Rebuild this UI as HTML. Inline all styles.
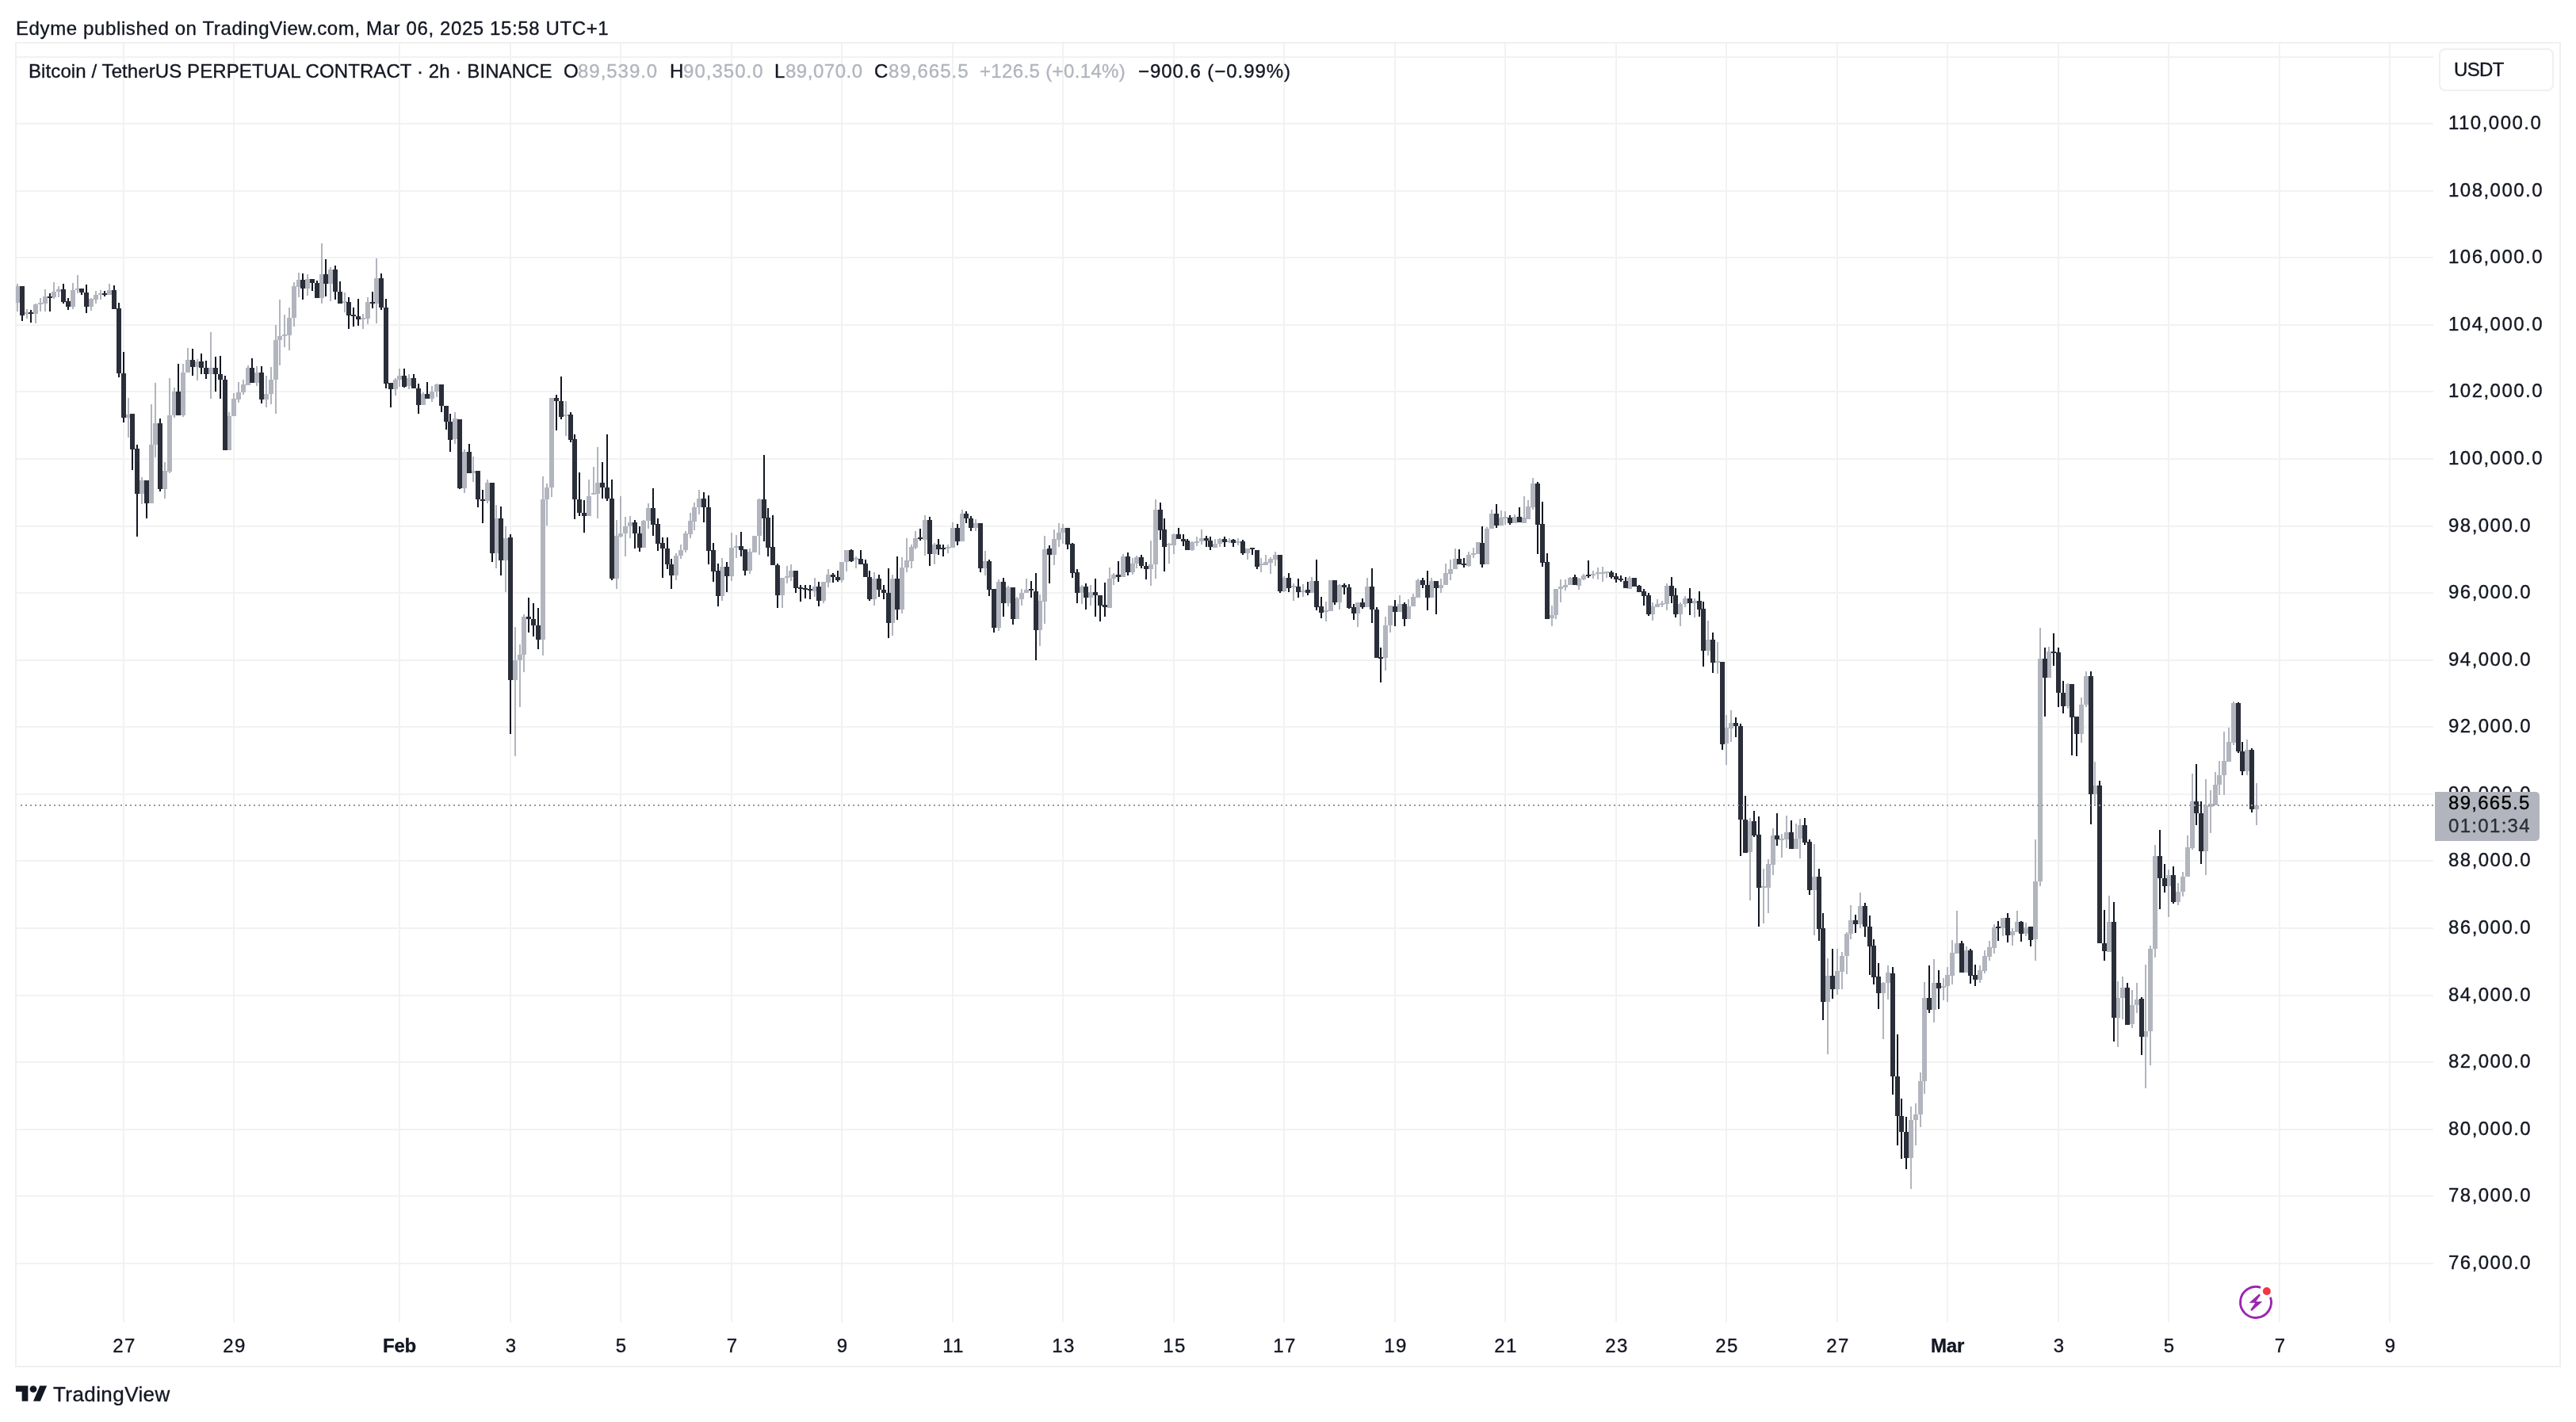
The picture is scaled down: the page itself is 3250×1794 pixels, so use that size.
<!DOCTYPE html>
<html><head><meta charset="utf-8"><title>BTCUSDT.P 2h chart</title>
<style>
html,body{margin:0;padding:0;background:#ffffff;}
body{width:3250px;height:1794px;overflow:hidden;position:relative;font-family:"Liberation Sans",Arial,sans-serif;}
.chart{position:absolute;left:0;top:0;}
.t{position:absolute;white-space:nowrap;will-change:transform;-webkit-text-stroke:0.35px currentColor;}
.frame{position:absolute;left:19px;top:53px;width:3208px;height:1668px;border:2px solid #f0f0f0;}
.usdt{position:absolute;left:3077px;top:61px;width:141px;height:50px;border:2px solid #f0f0f0;border-radius:8px;background:#fff;}
.plabel{position:absolute;left:3072px;top:999px;width:132px;height:62px;background:#b2b5be;border-radius:0 5px 5px 0;}
</style></head>
<body>
<div class="frame"></div>
<svg class="chart" width="3250" height="1794" viewBox="0 0 3250 1794" shape-rendering="crispEdges"><path fill="#f2f2f2" d="M21 71h3049v2h-3049zM21 155h3049v2h-3049zM21 240h3049v2h-3049zM21 324h3049v2h-3049zM21 409h3049v2h-3049zM21 493h3049v2h-3049zM21 578h3049v2h-3049zM21 663h3049v2h-3049zM21 747h3049v2h-3049zM21 832h3049v2h-3049zM21 916h3049v2h-3049zM21 1001h3049v2h-3049zM21 1085h3049v2h-3049zM21 1170h3049v2h-3049zM21 1255h3049v2h-3049zM21 1339h3049v2h-3049zM21 1424h3049v2h-3049zM21 1508h3049v2h-3049zM21 1593h3049v2h-3049zM155 55h2v1613h-2zM294 55h2v1613h-2zM503 55h2v1613h-2zM643 55h2v1613h-2zM782 55h2v1613h-2zM922 55h2v1613h-2zM1061 55h2v1613h-2zM1201 55h2v1613h-2zM1340 55h2v1613h-2zM1480 55h2v1613h-2zM1619 55h2v1613h-2zM1759 55h2v1613h-2zM1898 55h2v1613h-2zM2038 55h2v1613h-2zM2177 55h2v1613h-2zM2317 55h2v1613h-2zM2456 55h2v1613h-2zM2596 55h2v1613h-2zM2735 55h2v1613h-2zM2875 55h2v1613h-2zM3014 55h2v1613h-2z"/><path fill="#b2b5be" d="M21 358h2v35h-2zM33 390h2v12h-2zM44 383h2v25h-2zM50 376h2v17h-2zM56 365h2v28h-2zM67 356h2v21h-2zM73 361h2v14h-2zM91 357h2v33h-2zM97 347h2v23h-2zM114 376h2v16h-2zM120 367h2v16h-2zM126 366h2v12h-2zM137 358h2v14h-2zM161 502h2v50h-2zM178 602h2v34h-2zM190 510h2v125h-2zM195 483h2v94h-2zM207 583h2v46h-2zM213 477h2v120h-2zM219 489h2v38h-2zM230 459h2v67h-2zM236 439h2v31h-2zM248 453h2v27h-2zM265 419h2v84h-2zM288 520h2v48h-2zM294 496h2v29h-2zM300 482h2v26h-2zM306 479h2v19h-2zM312 461h2v25h-2zM323 462h2v25h-2zM335 474h2v40h-2zM341 463h2v47h-2zM347 410h2v112h-2zM352 378h2v83h-2zM358 397h2v41h-2zM364 388h2v54h-2zM370 356h2v56h-2zM376 344h2v31h-2zM387 346h2v27h-2zM405 307h2v76h-2zM416 337h2v43h-2zM434 369h2v25h-2zM457 396h2v19h-2zM463 375h2v34h-2zM474 326h2v82h-2zM498 477h2v22h-2zM503 465h2v23h-2zM515 472h2v19h-2zM533 495h2v16h-2zM544 487h2v20h-2zM550 484h2v17h-2zM573 520h2v40h-2zM585 567h2v55h-2zM596 576h2v32h-2zM614 605h2v30h-2zM625 637h2v80h-2zM637 664h2v83h-2zM649 791h2v163h-2zM655 813h2v79h-2zM660 775h2v73h-2zM684 601h2v226h-2zM689 610h2v53h-2zM695 502h2v125h-2zM713 506h2v44h-2zM742 605h2v46h-2zM748 589h2v35h-2zM753 564h2v90h-2zM777 656h2v87h-2zM782 626h2v52h-2zM788 652h2v50h-2zM794 651h2v28h-2zM811 656h2v35h-2zM817 635h2v32h-2zM852 698h2v34h-2zM858 687h2v18h-2zM864 670h2v27h-2zM870 647h2v32h-2zM875 634h2v35h-2zM881 618h2v31h-2zM910 704h2v54h-2zM922 672h2v61h-2zM928 675h2v29h-2zM945 692h2v32h-2zM951 676h2v21h-2zM957 629h2v71h-2zM986 729h2v38h-2zM992 714h2v22h-2zM997 712h2v21h-2zM1027 729h2v24h-2zM1038 734h2v27h-2zM1044 718h2v23h-2zM1061 709h2v26h-2zM1067 694h2v27h-2zM1079 702h2v15h-2zM1102 722h2v42h-2zM1125 725h2v77h-2zM1137 703h2v71h-2zM1143 679h2v43h-2zM1149 687h2v30h-2zM1154 670h2v23h-2zM1166 650h2v51h-2zM1178 685h2v27h-2zM1195 687h2v11h-2zM1201 659h2v32h-2zM1213 643h2v40h-2zM1230 655h2v15h-2zM1242 695h2v31h-2zM1259 731h2v65h-2zM1271 739h2v26h-2zM1282 753h2v28h-2zM1288 743h2v21h-2zM1294 730h2v18h-2zM1311 750h2v65h-2zM1317 676h2v111h-2zM1329 668h2v45h-2zM1335 660h2v30h-2zM1340 661h2v25h-2zM1364 738h2v24h-2zM1375 738h2v26h-2zM1399 716h2v51h-2zM1404 723h2v15h-2zM1416 699h2v29h-2zM1428 704h2v21h-2zM1433 701h2v16h-2zM1451 682h2v57h-2zM1457 630h2v100h-2zM1474 685h2v26h-2zM1480 673h2v26h-2zM1503 683h2v12h-2zM1509 677h2v12h-2zM1515 668h2v19h-2zM1532 680h2v11h-2zM1538 679h2v11h-2zM1550 679h2v6h-2zM1561 679h2v9h-2zM1573 692h2v14h-2zM1590 704h2v18h-2zM1596 700h2v13h-2zM1602 703h2v21h-2zM1608 696h2v18h-2zM1619 727h2v20h-2zM1631 736h2v22h-2zM1643 737h2v16h-2zM1654 728h2v20h-2zM1672 759h2v25h-2zM1678 732h2v39h-2zM1689 737h2v32h-2zM1712 760h2v31h-2zM1724 729h2v37h-2zM1747 778h2v68h-2zM1753 764h2v34h-2zM1765 751h2v21h-2zM1776 756h2v25h-2zM1782 749h2v16h-2zM1788 730h2v24h-2zM1805 729h2v25h-2zM1817 730h2v18h-2zM1823 711h2v27h-2zM1829 706h2v26h-2zM1835 692h2v26h-2zM1852 696h2v19h-2zM1858 691h2v13h-2zM1864 684h2v15h-2zM1875 665h2v47h-2zM1881 643h2v24h-2zM1893 644h2v19h-2zM1898 645h2v17h-2zM1910 649h2v11h-2zM1922 626h2v34h-2zM1927 631h2v24h-2zM1933 603h2v40h-2zM1957 764h2v26h-2zM1962 743h2v38h-2zM1968 731h2v29h-2zM1974 731h2v14h-2zM1980 728h2v10h-2zM1991 729h2v15h-2zM1997 724h2v8h-2zM2009 720h2v10h-2zM2015 716h2v15h-2zM2021 715h2v19h-2zM2026 721h2v8h-2zM2055 727h2v16h-2zM2084 760h2v23h-2zM2090 756h2v10h-2zM2096 758h2v8h-2zM2102 736h2v34h-2zM2119 760h2v30h-2zM2125 752h2v14h-2zM2137 755h2v24h-2zM2154 783h2v44h-2zM2166 810h2v40h-2zM2177 902h2v63h-2zM2183 896h2v40h-2zM2207 1032h2v104h-2zM2224 1096h2v69h-2zM2230 1084h2v68h-2zM2236 1045h2v59h-2zM2247 1052h2v30h-2zM2253 1029h2v41h-2zM2265 1039h2v32h-2zM2270 1033h2v50h-2zM2288 1065h2v115h-2zM2305 1209h2v121h-2zM2317 1197h2v58h-2zM2323 1201h2v47h-2zM2329 1176h2v53h-2zM2334 1142h2v43h-2zM2346 1126h2v45h-2zM2375 1239h2v72h-2zM2381 1218h2v43h-2zM2410 1396h2v104h-2zM2416 1392h2v53h-2zM2422 1353h2v69h-2zM2427 1239h2v141h-2zM2439 1210h2v80h-2zM2451 1234h2v28h-2zM2456 1220h2v44h-2zM2462 1186h2v56h-2zM2468 1149h2v54h-2zM2480 1194h2v33h-2zM2497 1218h2v22h-2zM2503 1199h2v29h-2zM2509 1187h2v25h-2zM2515 1166h2v37h-2zM2526 1158h2v23h-2zM2538 1171h2v22h-2zM2544 1149h2v27h-2zM2555 1164h2v17h-2zM2567 1059h2v153h-2zM2573 792h2v326h-2zM2584 816h2v39h-2zM2608 862h2v32h-2zM2625 880h2v57h-2zM2631 847h2v45h-2zM2642 961h2v55h-2zM2660 1130h2v71h-2zM2671 1238h2v83h-2zM2677 1232h2v54h-2zM2689 1249h2v48h-2zM2695 1240h2v38h-2zM2706 1217h2v156h-2zM2712 1193h2v151h-2zM2718 1066h2v142h-2zM2735 1097h2v60h-2zM2747 1114h2v28h-2zM2753 1100h2v31h-2zM2759 1054h2v52h-2zM2765 976h2v96h-2zM2782 983h2v121h-2zM2788 997h2v54h-2zM2794 974h2v42h-2zM2799 960h2v43h-2zM2805 923h2v80h-2zM2811 918h2v43h-2zM2817 885h2v55h-2zM2834 933h2v45h-2zM2846 988h2v53h-2z"/><path fill="#b2b5be" d="M20 361h5v21h-5zM31 394h6v2h-6zM42 384h6v12h-6zM48 382h6v2h-6zM54 374h6v9h-6zM65 368h6v7h-6zM71 365h6v3h-6zM89 366h6v21h-6zM95 364h6v2h-6zM112 377h6v10h-6zM118 372h6v6h-6zM124 370h6v2h-6zM135 366h6v6h-6zM159 523h6v4h-6zM176 606h6v17h-6zM188 561h6v74h-6zM193 534h6v27h-6zM205 594h6v23h-6zM211 524h6v71h-6zM217 494h6v30h-6zM228 470h6v54h-6zM234 454h6v16h-6zM246 456h6v7h-6zM263 464h6v8h-6zM286 525h6v43h-6zM292 503h6v22h-6zM298 495h6v9h-6zM304 485h6v10h-6zM310 464h6v22h-6zM321 470h6v13h-6zM333 497h6v7h-6zM339 479h6v18h-6zM345 429h6v50h-6zM350 424h6v5h-6zM356 422h6v2h-6zM362 401h6v22h-6zM368 361h6v40h-6zM374 353h6v9h-6zM385 352h6v12h-6zM403 346h6v30h-6zM414 340h6v18h-6zM432 380h6v2h-6zM455 401h6v2h-6zM461 381h6v21h-6zM472 351h6v32h-6zM496 479h6v12h-6zM501 474h6v5h-6zM513 477h6v10h-6zM531 497h6v14h-6zM542 494h6v9h-6zM548 485h6v9h-6zM571 528h6v26h-6zM583 570h6v46h-6zM594 594h6v3h-6zM612 609h6v23h-6zM623 654h6v44h-6zM635 679h6v28h-6zM647 833h6v25h-6zM653 826h6v7h-6zM658 778h6v48h-6zM682 630h6v177h-6zM687 615h6v15h-6zM693 502h6v113h-6zM711 523h6v2h-6zM740 626h6v25h-6zM746 622h6v2h-6zM751 609h6v14h-6zM775 676h6v54h-6zM780 673h6v4h-6zM786 664h6v9h-6zM792 659h6v5h-6zM809 657h6v34h-6zM815 641h6v16h-6zM850 701h6v25h-6zM856 694h6v7h-6zM862 673h6v21h-6zM868 657h6v17h-6zM873 640h6v18h-6zM879 629h6v11h-6zM908 715h6v37h-6zM920 691h6v36h-6zM926 689h6v2h-6zM943 696h6v24h-6zM949 676h6v21h-6zM955 630h6v46h-6zM984 729h6v22h-6zM990 727h6v2h-6zM995 720h6v8h-6zM1025 740h6v6h-6zM1036 734h6v24h-6zM1042 725h6v10h-6zM1059 709h6v23h-6zM1065 694h6v15h-6zM1077 704h6v2h-6zM1100 730h6v26h-6zM1123 730h6v56h-6zM1135 716h6v53h-6zM1141 707h6v9h-6zM1147 690h6v18h-6zM1152 679h6v12h-6zM1164 656h6v25h-6zM1176 687h6v12h-6zM1193 690h6v2h-6zM1199 666h6v25h-6zM1211 648h6v35h-6zM1228 660h6v6h-6zM1240 708h6v9h-6zM1257 734h6v58h-6zM1269 741h6v20h-6zM1280 755h6v26h-6zM1286 748h6v8h-6zM1292 744h6v4h-6zM1309 758h6v37h-6zM1315 693h6v66h-6zM1327 680h6v20h-6zM1333 672h6v9h-6zM1338 666h6v6h-6zM1362 740h6v8h-6zM1373 747h6v7h-6zM1397 730h6v37h-6zM1402 725h6v5h-6zM1414 702h6v26h-6zM1426 711h6v11h-6zM1431 703h6v8h-6zM1449 712h6v6h-6zM1455 643h6v69h-6zM1472 686h6v2h-6zM1478 674h6v14h-6zM1501 684h6v10h-6zM1507 683h6v2h-6zM1513 679h6v4h-6zM1530 686h6v5h-6zM1536 680h6v6h-6zM1548 682h6v2h-6zM1559 683h6v2h-6zM1571 692h6v6h-6zM1588 711h6v2h-6zM1594 709h6v4h-6zM1600 705h6v5h-6zM1606 700h6v6h-6zM1617 729h6v17h-6zM1629 739h6v2h-6zM1641 745h6v2h-6zM1652 733h6v15h-6zM1670 770h6v2h-6zM1676 732h6v39h-6zM1687 738h6v22h-6zM1710 760h6v14h-6zM1722 740h6v26h-6zM1745 789h6v41h-6zM1751 764h6v25h-6zM1763 762h6v10h-6zM1774 765h6v16h-6zM1780 753h6v12h-6zM1786 732h6v22h-6zM1803 733h6v21h-6zM1815 738h6v4h-6zM1821 723h6v15h-6zM1827 718h6v6h-6zM1833 705h6v13h-6zM1850 700h6v14h-6zM1856 698h6v2h-6zM1862 684h6v15h-6zM1873 667h6v45h-6zM1879 648h6v19h-6zM1891 653h6v10h-6zM1896 652h6v2h-6zM1908 652h6v8h-6zM1920 653h6v7h-6zM1925 639h6v16h-6zM1931 610h6v30h-6zM1955 776h6v4h-6zM1960 743h6v33h-6zM1966 740h6v3h-6zM1972 738h6v3h-6zM1978 729h6v9h-6zM1989 730h6v9h-6zM1995 726h6v5h-6zM2007 724h6v2h-6zM2013 722h6v2h-6zM2019 722h6v2h-6zM2024 721h6v2h-6zM2053 729h6v14h-6zM2082 765h6v10h-6zM2088 762h6v4h-6zM2094 761h6v2h-6zM2100 739h6v23h-6zM2117 762h6v13h-6zM2123 755h6v7h-6zM2135 758h6v3h-6zM2152 807h6v14h-6zM2164 834h6v2h-6zM2175 918h6v20h-6zM2181 912h6v7h-6zM2205 1036h6v39h-6zM2222 1118h6v2h-6zM2228 1090h6v30h-6zM2234 1054h6v37h-6zM2245 1058h6v2h-6zM2251 1050h6v9h-6zM2263 1058h6v13h-6zM2268 1041h6v17h-6zM2286 1106h6v17h-6zM2303 1231h6v33h-6zM2315 1225h6v23h-6zM2321 1206h6v20h-6zM2327 1178h6v28h-6zM2332 1161h6v17h-6zM2344 1143h6v23h-6zM2373 1240h6v13h-6zM2379 1227h6v13h-6zM2408 1413h6v48h-6zM2414 1406h6v7h-6zM2420 1364h6v42h-6zM2425 1259h6v105h-6zM2437 1240h6v34h-6zM2449 1244h6v2h-6zM2454 1230h6v14h-6zM2460 1202h6v29h-6zM2466 1190h6v13h-6zM2478 1199h6v28h-6zM2495 1224h6v12h-6zM2501 1206h6v19h-6zM2507 1195h6v12h-6zM2513 1170h6v26h-6zM2524 1158h6v13h-6zM2536 1175h6v5h-6zM2542 1163h6v13h-6zM2553 1170h6v8h-6zM2565 1112h6v73h-6zM2571 831h6v281h-6zM2582 822h6v33h-6zM2606 863h6v28h-6zM2623 889h6v37h-6zM2629 853h6v36h-6zM2640 991h6v11h-6zM2658 1163h6v38h-6zM2669 1259h6v25h-6zM2675 1246h6v13h-6zM2687 1268h6v24h-6zM2693 1261h6v7h-6zM2704 1301h6v7h-6zM2710 1197h6v104h-6zM2716 1080h6v117h-6zM2733 1104h6v14h-6zM2745 1125h6v13h-6zM2751 1106h6v19h-6zM2757 1069h6v37h-6zM2763 1011h6v59h-6zM2780 1016h6v58h-6zM2786 1014h6v4h-6zM2792 990h6v26h-6zM2797 978h6v12h-6zM2803 960h6v18h-6zM2809 936h6v25h-6zM2815 887h6v50h-6zM2832 946h6v27h-6zM2844 1016h6v5h-6z"/><path fill="#131722" d="M27 361h2v44h-2zM38 391h2v16h-2zM62 370h2v23h-2zM79 358h2v25h-2zM85 376h2v15h-2zM102 364h2v8h-2zM108 359h2v36h-2zM131 367h2v7h-2zM143 360h2v30h-2zM149 382h2v94h-2zM155 444h2v89h-2zM166 522h2v71h-2zM172 561h2v116h-2zM184 606h2v48h-2zM201 528h2v92h-2zM224 459h2v65h-2zM242 440h2v34h-2zM253 446h2v26h-2zM259 455h2v23h-2zM271 450h2v44h-2zM277 449h2v54h-2zM283 474h2v94h-2zM317 452h2v31h-2zM329 462h2v47h-2zM381 345h2v33h-2zM393 352h2v15h-2zM399 354h2v22h-2zM410 327h2v47h-2zM422 335h2v43h-2zM428 355h2v28h-2zM439 375h2v40h-2zM445 388h2v24h-2zM451 377h2v34h-2zM469 368h2v21h-2zM480 345h2v46h-2zM486 377h2v113h-2zM492 483h2v31h-2zM509 465h2v24h-2zM521 472h2v18h-2zM527 484h2v38h-2zM538 482h2v21h-2zM556 485h2v35h-2zM562 512h2v30h-2zM567 522h2v48h-2zM579 529h2v88h-2zM591 560h2v37h-2zM602 594h2v46h-2zM608 618h2v42h-2zM620 609h2v100h-2zM631 639h2v87h-2zM643 674h2v252h-2zM666 754h2v44h-2zM672 761h2v42h-2zM678 767h2v52h-2zM701 498h2v45h-2zM707 475h2v54h-2zM719 520h2v38h-2zM724 548h2v107h-2zM730 596h2v55h-2zM736 631h2v41h-2zM759 583h2v46h-2zM765 548h2v84h-2zM771 605h2v127h-2zM800 656h2v36h-2zM806 664h2v32h-2zM823 616h2v60h-2zM829 654h2v41h-2zM835 678h2v51h-2zM841 678h2v40h-2zM846 705h2v38h-2zM887 621h2v38h-2zM893 625h2v87h-2zM899 685h2v49h-2zM905 711h2v54h-2zM916 709h2v38h-2zM934 671h2v31h-2zM939 693h2v33h-2zM963 574h2v109h-2zM968 641h2v61h-2zM974 650h2v63h-2zM980 711h2v56h-2zM1003 720h2v28h-2zM1009 738h2v21h-2zM1015 738h2v17h-2zM1021 738h2v18h-2zM1032 734h2v31h-2zM1050 723h2v12h-2zM1056 720h2v14h-2zM1073 693h2v16h-2zM1085 694h2v18h-2zM1091 706h2v22h-2zM1096 720h2v38h-2zM1108 725h2v28h-2zM1114 738h2v18h-2zM1120 717h2v88h-2zM1131 702h2v80h-2zM1160 667h2v15h-2zM1172 652h2v62h-2zM1183 680h2v20h-2zM1189 687h2v15h-2zM1207 661h2v27h-2zM1218 645h2v15h-2zM1224 651h2v19h-2zM1236 660h2v62h-2zM1247 706h2v46h-2zM1253 743h2v55h-2zM1265 729h2v49h-2zM1277 741h2v47h-2zM1300 733h2v21h-2zM1306 723h2v110h-2zM1323 688h2v48h-2zM1346 666h2v27h-2zM1352 685h2v44h-2zM1358 718h2v43h-2zM1369 736h2v33h-2zM1381 730h2v48h-2zM1387 751h2v33h-2zM1393 735h2v43h-2zM1410 708h2v26h-2zM1422 697h2v29h-2zM1439 700h2v17h-2zM1445 709h2v22h-2zM1463 634h2v47h-2zM1468 654h2v67h-2zM1486 666h2v14h-2zM1492 674h2v15h-2zM1497 680h2v14h-2zM1521 676h2v14h-2zM1526 677h2v17h-2zM1544 677h2v13h-2zM1555 680h2v10h-2zM1567 681h2v19h-2zM1579 691h2v9h-2zM1585 694h2v24h-2zM1614 700h2v48h-2zM1625 723h2v24h-2zM1637 730h2v24h-2zM1649 734h2v17h-2zM1660 706h2v64h-2zM1666 753h2v27h-2zM1683 732h2v31h-2zM1695 736h2v14h-2zM1701 737h2v31h-2zM1707 762h2v20h-2zM1718 755h2v13h-2zM1730 717h2v69h-2zM1736 766h2v64h-2zM1741 817h2v44h-2zM1759 757h2v33h-2zM1771 760h2v30h-2zM1794 729h2v13h-2zM1800 720h2v50h-2zM1811 733h2v42h-2zM1840 693h2v19h-2zM1846 704h2v12h-2zM1869 664h2v52h-2zM1887 636h2v30h-2zM1904 650h2v12h-2zM1916 640h2v19h-2zM1939 608h2v91h-2zM1945 633h2v82h-2zM1951 698h2v83h-2zM1986 725h2v13h-2zM2003 707h2v22h-2zM2032 720h2v10h-2zM2038 723h2v12h-2zM2044 726h2v8h-2zM2050 728h2v14h-2zM2061 729h2v11h-2zM2067 738h2v9h-2zM2073 743h2v21h-2zM2079 748h2v29h-2zM2108 728h2v33h-2zM2113 742h2v37h-2zM2131 742h2v34h-2zM2143 746h2v32h-2zM2148 759h2v82h-2zM2160 798h2v51h-2zM2172 835h2v111h-2zM2189 905h2v25h-2zM2195 913h2v167h-2zM2201 1004h2v72h-2zM2212 1023h2v33h-2zM2218 1030h2v139h-2zM2241 1026h2v41h-2zM2259 1035h2v36h-2zM2276 1032h2v34h-2zM2282 1059h2v70h-2zM2294 1096h2v91h-2zM2299 1152h2v135h-2zM2311 1197h2v63h-2zM2340 1154h2v23h-2zM2352 1139h2v43h-2zM2358 1155h2v75h-2zM2363 1185h2v57h-2zM2369 1215h2v58h-2zM2387 1220h2v161h-2zM2393 1305h2v140h-2zM2398 1386h2v76h-2zM2404 1409h2v66h-2zM2433 1218h2v60h-2zM2445 1224h2v49h-2zM2474 1187h2v40h-2zM2485 1197h2v44h-2zM2491 1217h2v27h-2zM2520 1162h2v25h-2zM2532 1152h2v37h-2zM2549 1162h2v26h-2zM2561 1169h2v25h-2zM2579 817h2v87h-2zM2590 799h2v41h-2zM2596 817h2v75h-2zM2602 859h2v41h-2zM2613 863h2v90h-2zM2619 904h2v50h-2zM2637 847h2v193h-2zM2648 985h2v205h-2zM2654 1148h2v64h-2zM2666 1138h2v176h-2zM2683 1240h2v53h-2zM2701 1258h2v73h-2zM2724 1047h2v100h-2zM2730 1090h2v36h-2zM2741 1093h2v47h-2zM2770 964h2v77h-2zM2776 1011h2v79h-2zM2823 886h2v64h-2zM2828 936h2v42h-2zM2840 944h2v81h-2z"/><path fill="#2a2e39" d="M25 361h6v37h-6zM36 394h6v2h-6zM60 374h6v2h-6zM77 365h6v16h-6zM83 380h6v7h-6zM100 364h6v5h-6zM106 369h6v18h-6zM129 370h6v2h-6zM141 366h6v24h-6zM147 389h6v82h-6zM153 471h6v56h-6zM164 522h6v45h-6zM170 566h6v57h-6zM182 606h6v29h-6zM199 534h6v83h-6zM222 494h6v30h-6zM240 454h6v9h-6zM251 456h6v8h-6zM257 464h6v8h-6zM269 464h6v8h-6zM275 472h6v7h-6zM281 479h6v89h-6zM315 464h6v19h-6zM327 470h6v34h-6zM379 353h6v11h-6zM391 352h6v5h-6zM397 357h6v19h-6zM408 346h6v12h-6zM420 340h6v28h-6zM426 368h6v15h-6zM437 381h6v17h-6zM443 397h6v2h-6zM449 399h6v4h-6zM467 381h6v2h-6zM478 351h6v37h-6zM484 388h6v96h-6zM490 483h6v8h-6zM507 474h6v14h-6zM519 477h6v13h-6zM525 490h6v21h-6zM536 497h6v6h-6zM554 485h6v27h-6zM560 512h6v20h-6zM565 532h6v23h-6zM577 529h6v87h-6zM589 570h6v27h-6zM600 594h6v36h-6zM606 630h6v2h-6zM618 609h6v89h-6zM629 654h6v53h-6zM641 678h6v180h-6zM664 778h6v3h-6zM670 781h6v8h-6zM676 789h6v18h-6zM699 502h6v4h-6zM705 506h6v20h-6zM717 523h6v32h-6zM722 554h6v76h-6zM728 630h6v17h-6zM734 647h6v4h-6zM757 609h6v6h-6zM763 615h6v14h-6zM769 629h6v101h-6zM798 659h6v14h-6zM804 673h6v18h-6zM821 641h6v21h-6zM827 661h6v25h-6zM833 685h6v7h-6zM839 692h6v20h-6zM844 712h6v14h-6zM885 629h6v11h-6zM891 640h6v55h-6zM897 694h6v27h-6zM903 720h6v32h-6zM914 715h6v12h-6zM932 689h6v5h-6zM937 693h6v27h-6zM961 630h6v24h-6zM966 653h6v38h-6zM972 690h6v23h-6zM978 713h6v38h-6zM1001 720h6v22h-6zM1007 741h6v2h-6zM1013 742h6v2h-6zM1019 743h6v2h-6zM1030 740h6v18h-6zM1048 725h6v3h-6zM1054 728h6v4h-6zM1071 694h6v14h-6zM1083 705h6v7h-6zM1089 711h6v17h-6zM1094 728h6v28h-6zM1106 730h6v14h-6zM1112 744h6v4h-6zM1118 748h6v38h-6zM1129 730h6v39h-6zM1158 678h6v2h-6zM1170 656h6v43h-6zM1181 687h6v6h-6zM1187 691h6v2h-6zM1205 666h6v17h-6zM1216 648h6v6h-6zM1222 654h6v12h-6zM1234 660h6v57h-6zM1245 708h6v36h-6zM1251 743h6v49h-6zM1263 734h6v27h-6zM1275 741h6v40h-6zM1298 743h6v2h-6zM1304 746h6v49h-6zM1321 692h6v8h-6zM1344 666h6v21h-6zM1350 686h6v37h-6zM1356 722h6v26h-6zM1367 740h6v14h-6zM1379 747h6v4h-6zM1385 751h6v13h-6zM1391 763h6v3h-6zM1408 725h6v3h-6zM1420 702h6v20h-6zM1437 703h6v11h-6zM1443 714h6v4h-6zM1461 643h6v26h-6zM1466 668h6v22h-6zM1484 674h6v6h-6zM1490 680h6v3h-6zM1495 682h6v12h-6zM1519 679h6v3h-6zM1524 682h6v8h-6zM1542 680h6v4h-6zM1553 681h6v4h-6zM1565 683h6v15h-6zM1577 691h6v2h-6zM1583 694h6v21h-6zM1612 700h6v46h-6zM1623 729h6v13h-6zM1635 740h6v7h-6zM1647 744h6v4h-6zM1658 733h6v33h-6zM1664 765h6v8h-6zM1681 732h6v28h-6zM1693 738h6v3h-6zM1699 741h6v26h-6zM1705 766h6v8h-6zM1716 760h6v6h-6zM1728 740h6v29h-6zM1734 769h6v61h-6zM1739 829h6v2h-6zM1757 765h6v7h-6zM1769 762h6v19h-6zM1792 732h6v6h-6zM1798 738h6v16h-6zM1809 733h6v9h-6zM1838 705h6v7h-6zM1844 711h6v2h-6zM1867 685h6v27h-6zM1885 648h6v15h-6zM1902 653h6v7h-6zM1914 652h6v7h-6zM1937 610h6v52h-6zM1943 661h6v49h-6zM1949 709h6v72h-6zM1984 728h6v10h-6zM2001 725h6v2h-6zM2030 722h6v6h-6zM2036 727h6v4h-6zM2042 730h6v2h-6zM2048 733h6v9h-6zM2059 729h6v11h-6zM2065 739h6v8h-6zM2071 746h6v6h-6zM2077 751h6v24h-6zM2106 739h6v13h-6zM2111 751h6v24h-6zM2129 755h6v6h-6zM2141 758h6v11h-6zM2146 768h6v53h-6zM2158 807h6v29h-6zM2170 835h6v104h-6zM2187 912h6v4h-6zM2193 916h6v118h-6zM2199 1034h6v42h-6zM2210 1036h6v18h-6zM2216 1053h6v67h-6zM2239 1054h6v5h-6zM2257 1050h6v21h-6zM2274 1041h6v22h-6zM2280 1062h6v61h-6zM2292 1106h6v66h-6zM2297 1171h6v93h-6zM2309 1231h6v17h-6zM2338 1161h6v5h-6zM2350 1143h6v26h-6zM2356 1169h6v25h-6zM2361 1193h6v40h-6zM2367 1232h6v21h-6zM2385 1228h6v130h-6zM2391 1358h6v50h-6zM2396 1408h6v20h-6zM2402 1428h6v33h-6zM2431 1259h6v15h-6zM2443 1240h6v7h-6zM2472 1190h6v37h-6zM2483 1199h6v32h-6zM2489 1230h6v6h-6zM2518 1169h6v2h-6zM2530 1158h6v22h-6zM2547 1163h6v15h-6zM2559 1169h6v17h-6zM2577 831h6v24h-6zM2588 822h6v2h-6zM2594 823h6v51h-6zM2600 874h6v17h-6zM2611 863h6v42h-6zM2617 904h6v22h-6zM2635 853h6v149h-6zM2646 991h6v199h-6zM2652 1190h6v10h-6zM2664 1163h6v121h-6zM2681 1246h6v47h-6zM2699 1260h6v48h-6zM2722 1080h6v28h-6zM2728 1108h6v10h-6zM2739 1104h6v34h-6zM2768 1011h6v15h-6zM2774 1026h6v48h-6zM2821 887h6v61h-6zM2826 948h6v25h-6zM2838 946h6v75h-6z"/><path fill="#9598a1" d="M26 1015h2v2h-2zM32 1015h2v2h-2zM38 1015h2v2h-2zM44 1015h2v2h-2zM50 1015h2v2h-2zM56 1015h2v2h-2zM62 1015h2v2h-2zM68 1015h2v2h-2zM74 1015h2v2h-2zM80 1015h2v2h-2zM86 1015h2v2h-2zM92 1015h2v2h-2zM98 1015h2v2h-2zM104 1015h2v2h-2zM110 1015h2v2h-2zM116 1015h2v2h-2zM122 1015h2v2h-2zM128 1015h2v2h-2zM134 1015h2v2h-2zM140 1015h2v2h-2zM146 1015h2v2h-2zM152 1015h2v2h-2zM158 1015h2v2h-2zM164 1015h2v2h-2zM170 1015h2v2h-2zM176 1015h2v2h-2zM182 1015h2v2h-2zM188 1015h2v2h-2zM194 1015h2v2h-2zM200 1015h2v2h-2zM206 1015h2v2h-2zM212 1015h2v2h-2zM218 1015h2v2h-2zM224 1015h2v2h-2zM230 1015h2v2h-2zM236 1015h2v2h-2zM242 1015h2v2h-2zM248 1015h2v2h-2zM254 1015h2v2h-2zM260 1015h2v2h-2zM266 1015h2v2h-2zM272 1015h2v2h-2zM278 1015h2v2h-2zM284 1015h2v2h-2zM290 1015h2v2h-2zM296 1015h2v2h-2zM302 1015h2v2h-2zM308 1015h2v2h-2zM314 1015h2v2h-2zM320 1015h2v2h-2zM326 1015h2v2h-2zM332 1015h2v2h-2zM338 1015h2v2h-2zM344 1015h2v2h-2zM350 1015h2v2h-2zM356 1015h2v2h-2zM362 1015h2v2h-2zM368 1015h2v2h-2zM374 1015h2v2h-2zM380 1015h2v2h-2zM386 1015h2v2h-2zM392 1015h2v2h-2zM398 1015h2v2h-2zM404 1015h2v2h-2zM410 1015h2v2h-2zM416 1015h2v2h-2zM422 1015h2v2h-2zM428 1015h2v2h-2zM434 1015h2v2h-2zM440 1015h2v2h-2zM446 1015h2v2h-2zM452 1015h2v2h-2zM458 1015h2v2h-2zM464 1015h2v2h-2zM470 1015h2v2h-2zM476 1015h2v2h-2zM482 1015h2v2h-2zM488 1015h2v2h-2zM494 1015h2v2h-2zM500 1015h2v2h-2zM506 1015h2v2h-2zM512 1015h2v2h-2zM518 1015h2v2h-2zM524 1015h2v2h-2zM530 1015h2v2h-2zM536 1015h2v2h-2zM542 1015h2v2h-2zM548 1015h2v2h-2zM554 1015h2v2h-2zM560 1015h2v2h-2zM566 1015h2v2h-2zM572 1015h2v2h-2zM578 1015h2v2h-2zM584 1015h2v2h-2zM590 1015h2v2h-2zM596 1015h2v2h-2zM602 1015h2v2h-2zM608 1015h2v2h-2zM614 1015h2v2h-2zM620 1015h2v2h-2zM626 1015h2v2h-2zM632 1015h2v2h-2zM638 1015h2v2h-2zM644 1015h2v2h-2zM650 1015h2v2h-2zM656 1015h2v2h-2zM662 1015h2v2h-2zM668 1015h2v2h-2zM674 1015h2v2h-2zM680 1015h2v2h-2zM686 1015h2v2h-2zM692 1015h2v2h-2zM698 1015h2v2h-2zM704 1015h2v2h-2zM710 1015h2v2h-2zM716 1015h2v2h-2zM722 1015h2v2h-2zM728 1015h2v2h-2zM734 1015h2v2h-2zM740 1015h2v2h-2zM746 1015h2v2h-2zM752 1015h2v2h-2zM758 1015h2v2h-2zM764 1015h2v2h-2zM770 1015h2v2h-2zM776 1015h2v2h-2zM782 1015h2v2h-2zM788 1015h2v2h-2zM794 1015h2v2h-2zM800 1015h2v2h-2zM806 1015h2v2h-2zM812 1015h2v2h-2zM818 1015h2v2h-2zM824 1015h2v2h-2zM830 1015h2v2h-2zM836 1015h2v2h-2zM842 1015h2v2h-2zM848 1015h2v2h-2zM854 1015h2v2h-2zM860 1015h2v2h-2zM866 1015h2v2h-2zM872 1015h2v2h-2zM878 1015h2v2h-2zM884 1015h2v2h-2zM890 1015h2v2h-2zM896 1015h2v2h-2zM902 1015h2v2h-2zM908 1015h2v2h-2zM914 1015h2v2h-2zM920 1015h2v2h-2zM926 1015h2v2h-2zM932 1015h2v2h-2zM938 1015h2v2h-2zM944 1015h2v2h-2zM950 1015h2v2h-2zM956 1015h2v2h-2zM962 1015h2v2h-2zM968 1015h2v2h-2zM974 1015h2v2h-2zM980 1015h2v2h-2zM986 1015h2v2h-2zM992 1015h2v2h-2zM998 1015h2v2h-2zM1004 1015h2v2h-2zM1010 1015h2v2h-2zM1016 1015h2v2h-2zM1022 1015h2v2h-2zM1028 1015h2v2h-2zM1034 1015h2v2h-2zM1040 1015h2v2h-2zM1046 1015h2v2h-2zM1052 1015h2v2h-2zM1058 1015h2v2h-2zM1064 1015h2v2h-2zM1070 1015h2v2h-2zM1076 1015h2v2h-2zM1082 1015h2v2h-2zM1088 1015h2v2h-2zM1094 1015h2v2h-2zM1100 1015h2v2h-2zM1106 1015h2v2h-2zM1112 1015h2v2h-2zM1118 1015h2v2h-2zM1124 1015h2v2h-2zM1130 1015h2v2h-2zM1136 1015h2v2h-2zM1142 1015h2v2h-2zM1148 1015h2v2h-2zM1154 1015h2v2h-2zM1160 1015h2v2h-2zM1166 1015h2v2h-2zM1172 1015h2v2h-2zM1178 1015h2v2h-2zM1184 1015h2v2h-2zM1190 1015h2v2h-2zM1196 1015h2v2h-2zM1202 1015h2v2h-2zM1208 1015h2v2h-2zM1214 1015h2v2h-2zM1220 1015h2v2h-2zM1226 1015h2v2h-2zM1232 1015h2v2h-2zM1238 1015h2v2h-2zM1244 1015h2v2h-2zM1250 1015h2v2h-2zM1256 1015h2v2h-2zM1262 1015h2v2h-2zM1268 1015h2v2h-2zM1274 1015h2v2h-2zM1280 1015h2v2h-2zM1286 1015h2v2h-2zM1292 1015h2v2h-2zM1298 1015h2v2h-2zM1304 1015h2v2h-2zM1310 1015h2v2h-2zM1316 1015h2v2h-2zM1322 1015h2v2h-2zM1328 1015h2v2h-2zM1334 1015h2v2h-2zM1340 1015h2v2h-2zM1346 1015h2v2h-2zM1352 1015h2v2h-2zM1358 1015h2v2h-2zM1364 1015h2v2h-2zM1370 1015h2v2h-2zM1376 1015h2v2h-2zM1382 1015h2v2h-2zM1388 1015h2v2h-2zM1394 1015h2v2h-2zM1400 1015h2v2h-2zM1406 1015h2v2h-2zM1412 1015h2v2h-2zM1418 1015h2v2h-2zM1424 1015h2v2h-2zM1430 1015h2v2h-2zM1436 1015h2v2h-2zM1442 1015h2v2h-2zM1448 1015h2v2h-2zM1454 1015h2v2h-2zM1460 1015h2v2h-2zM1466 1015h2v2h-2zM1472 1015h2v2h-2zM1478 1015h2v2h-2zM1484 1015h2v2h-2zM1490 1015h2v2h-2zM1496 1015h2v2h-2zM1502 1015h2v2h-2zM1508 1015h2v2h-2zM1514 1015h2v2h-2zM1520 1015h2v2h-2zM1526 1015h2v2h-2zM1532 1015h2v2h-2zM1538 1015h2v2h-2zM1544 1015h2v2h-2zM1550 1015h2v2h-2zM1556 1015h2v2h-2zM1562 1015h2v2h-2zM1568 1015h2v2h-2zM1574 1015h2v2h-2zM1580 1015h2v2h-2zM1586 1015h2v2h-2zM1592 1015h2v2h-2zM1598 1015h2v2h-2zM1604 1015h2v2h-2zM1610 1015h2v2h-2zM1616 1015h2v2h-2zM1622 1015h2v2h-2zM1628 1015h2v2h-2zM1634 1015h2v2h-2zM1640 1015h2v2h-2zM1646 1015h2v2h-2zM1652 1015h2v2h-2zM1658 1015h2v2h-2zM1664 1015h2v2h-2zM1670 1015h2v2h-2zM1676 1015h2v2h-2zM1682 1015h2v2h-2zM1688 1015h2v2h-2zM1694 1015h2v2h-2zM1700 1015h2v2h-2zM1706 1015h2v2h-2zM1712 1015h2v2h-2zM1718 1015h2v2h-2zM1724 1015h2v2h-2zM1730 1015h2v2h-2zM1736 1015h2v2h-2zM1742 1015h2v2h-2zM1748 1015h2v2h-2zM1754 1015h2v2h-2zM1760 1015h2v2h-2zM1766 1015h2v2h-2zM1772 1015h2v2h-2zM1778 1015h2v2h-2zM1784 1015h2v2h-2zM1790 1015h2v2h-2zM1796 1015h2v2h-2zM1802 1015h2v2h-2zM1808 1015h2v2h-2zM1814 1015h2v2h-2zM1820 1015h2v2h-2zM1826 1015h2v2h-2zM1832 1015h2v2h-2zM1838 1015h2v2h-2zM1844 1015h2v2h-2zM1850 1015h2v2h-2zM1856 1015h2v2h-2zM1862 1015h2v2h-2zM1868 1015h2v2h-2zM1874 1015h2v2h-2zM1880 1015h2v2h-2zM1886 1015h2v2h-2zM1892 1015h2v2h-2zM1898 1015h2v2h-2zM1904 1015h2v2h-2zM1910 1015h2v2h-2zM1916 1015h2v2h-2zM1922 1015h2v2h-2zM1928 1015h2v2h-2zM1934 1015h2v2h-2zM1940 1015h2v2h-2zM1946 1015h2v2h-2zM1952 1015h2v2h-2zM1958 1015h2v2h-2zM1964 1015h2v2h-2zM1970 1015h2v2h-2zM1976 1015h2v2h-2zM1982 1015h2v2h-2zM1988 1015h2v2h-2zM1994 1015h2v2h-2zM2000 1015h2v2h-2zM2006 1015h2v2h-2zM2012 1015h2v2h-2zM2018 1015h2v2h-2zM2024 1015h2v2h-2zM2030 1015h2v2h-2zM2036 1015h2v2h-2zM2042 1015h2v2h-2zM2048 1015h2v2h-2zM2054 1015h2v2h-2zM2060 1015h2v2h-2zM2066 1015h2v2h-2zM2072 1015h2v2h-2zM2078 1015h2v2h-2zM2084 1015h2v2h-2zM2090 1015h2v2h-2zM2096 1015h2v2h-2zM2102 1015h2v2h-2zM2108 1015h2v2h-2zM2114 1015h2v2h-2zM2120 1015h2v2h-2zM2126 1015h2v2h-2zM2132 1015h2v2h-2zM2138 1015h2v2h-2zM2144 1015h2v2h-2zM2150 1015h2v2h-2zM2156 1015h2v2h-2zM2162 1015h2v2h-2zM2168 1015h2v2h-2zM2174 1015h2v2h-2zM2180 1015h2v2h-2zM2186 1015h2v2h-2zM2192 1015h2v2h-2zM2198 1015h2v2h-2zM2204 1015h2v2h-2zM2210 1015h2v2h-2zM2216 1015h2v2h-2zM2222 1015h2v2h-2zM2228 1015h2v2h-2zM2234 1015h2v2h-2zM2240 1015h2v2h-2zM2246 1015h2v2h-2zM2252 1015h2v2h-2zM2258 1015h2v2h-2zM2264 1015h2v2h-2zM2270 1015h2v2h-2zM2276 1015h2v2h-2zM2282 1015h2v2h-2zM2288 1015h2v2h-2zM2294 1015h2v2h-2zM2300 1015h2v2h-2zM2306 1015h2v2h-2zM2312 1015h2v2h-2zM2318 1015h2v2h-2zM2324 1015h2v2h-2zM2330 1015h2v2h-2zM2336 1015h2v2h-2zM2342 1015h2v2h-2zM2348 1015h2v2h-2zM2354 1015h2v2h-2zM2360 1015h2v2h-2zM2366 1015h2v2h-2zM2372 1015h2v2h-2zM2378 1015h2v2h-2zM2384 1015h2v2h-2zM2390 1015h2v2h-2zM2396 1015h2v2h-2zM2402 1015h2v2h-2zM2408 1015h2v2h-2zM2414 1015h2v2h-2zM2420 1015h2v2h-2zM2426 1015h2v2h-2zM2432 1015h2v2h-2zM2438 1015h2v2h-2zM2444 1015h2v2h-2zM2450 1015h2v2h-2zM2456 1015h2v2h-2zM2462 1015h2v2h-2zM2468 1015h2v2h-2zM2474 1015h2v2h-2zM2480 1015h2v2h-2zM2486 1015h2v2h-2zM2492 1015h2v2h-2zM2498 1015h2v2h-2zM2504 1015h2v2h-2zM2510 1015h2v2h-2zM2516 1015h2v2h-2zM2522 1015h2v2h-2zM2528 1015h2v2h-2zM2534 1015h2v2h-2zM2540 1015h2v2h-2zM2546 1015h2v2h-2zM2552 1015h2v2h-2zM2558 1015h2v2h-2zM2564 1015h2v2h-2zM2570 1015h2v2h-2zM2576 1015h2v2h-2zM2582 1015h2v2h-2zM2588 1015h2v2h-2zM2594 1015h2v2h-2zM2600 1015h2v2h-2zM2606 1015h2v2h-2zM2612 1015h2v2h-2zM2618 1015h2v2h-2zM2624 1015h2v2h-2zM2630 1015h2v2h-2zM2636 1015h2v2h-2zM2642 1015h2v2h-2zM2648 1015h2v2h-2zM2654 1015h2v2h-2zM2660 1015h2v2h-2zM2666 1015h2v2h-2zM2672 1015h2v2h-2zM2678 1015h2v2h-2zM2684 1015h2v2h-2zM2690 1015h2v2h-2zM2696 1015h2v2h-2zM2702 1015h2v2h-2zM2708 1015h2v2h-2zM2714 1015h2v2h-2zM2720 1015h2v2h-2zM2726 1015h2v2h-2zM2732 1015h2v2h-2zM2738 1015h2v2h-2zM2744 1015h2v2h-2zM2750 1015h2v2h-2zM2756 1015h2v2h-2zM2762 1015h2v2h-2zM2768 1015h2v2h-2zM2774 1015h2v2h-2zM2780 1015h2v2h-2zM2786 1015h2v2h-2zM2792 1015h2v2h-2zM2798 1015h2v2h-2zM2804 1015h2v2h-2zM2810 1015h2v2h-2zM2816 1015h2v2h-2zM2822 1015h2v2h-2zM2828 1015h2v2h-2zM2834 1015h2v2h-2zM2840 1015h2v2h-2zM2846 1015h2v2h-2zM2852 1015h2v2h-2zM2858 1015h2v2h-2zM2864 1015h2v2h-2zM2870 1015h2v2h-2zM2876 1015h2v2h-2zM2882 1015h2v2h-2zM2888 1015h2v2h-2zM2894 1015h2v2h-2zM2900 1015h2v2h-2zM2906 1015h2v2h-2zM2912 1015h2v2h-2zM2918 1015h2v2h-2zM2924 1015h2v2h-2zM2930 1015h2v2h-2zM2936 1015h2v2h-2zM2942 1015h2v2h-2zM2948 1015h2v2h-2zM2954 1015h2v2h-2zM2960 1015h2v2h-2zM2966 1015h2v2h-2zM2972 1015h2v2h-2zM2978 1015h2v2h-2zM2984 1015h2v2h-2zM2990 1015h2v2h-2zM2996 1015h2v2h-2zM3002 1015h2v2h-2zM3008 1015h2v2h-2zM3014 1015h2v2h-2zM3020 1015h2v2h-2zM3026 1015h2v2h-2zM3032 1015h2v2h-2zM3038 1015h2v2h-2zM3044 1015h2v2h-2zM3050 1015h2v2h-2zM3056 1015h2v2h-2zM3062 1015h2v2h-2zM3068 1015h2v2h-2z"/></svg>
<div class="t" style="left:20.00px;top:23.68px;font-size:24px;line-height:24px;color:#131722;letter-spacing:0.617px;">Edyme published on TradingView.com, Mar 06, 2025 15:58 UTC+1</div><div class="t" style="left:36.00px;top:77.98px;font-size:24px;line-height:24px;color:#131722;letter-spacing:0.094px;">Bitcoin / TetherUS PERPETUAL CONTRACT · 2h · BINANCE</div><div class="t" style="left:711.00px;top:77.98px;font-size:24px;line-height:24px;color:#131722;letter-spacing:0.000px;">O</div><div class="t" style="left:729.00px;top:77.98px;font-size:24px;line-height:24px;color:#b2b5be;letter-spacing:0.971px;">89,539.0</div><div class="t" style="left:844.50px;top:77.98px;font-size:24px;line-height:24px;color:#131722;letter-spacing:0.000px;">H</div><div class="t" style="left:861.50px;top:77.98px;font-size:24px;line-height:24px;color:#b2b5be;letter-spacing:1.029px;">90,350.0</div><div class="t" style="left:977.00px;top:77.98px;font-size:24px;line-height:24px;color:#131722;letter-spacing:0.000px;">L</div><div class="t" style="left:991.00px;top:77.98px;font-size:24px;line-height:24px;color:#b2b5be;letter-spacing:0.514px;">89,070.0</div><div class="t" style="left:1103.00px;top:77.98px;font-size:24px;line-height:24px;color:#131722;letter-spacing:0.000px;">C</div><div class="t" style="left:1120.50px;top:77.98px;font-size:24px;line-height:24px;color:#b2b5be;letter-spacing:1.029px;">89,665.5</div><div class="t" style="left:1236.00px;top:77.98px;font-size:24px;line-height:24px;color:#b2b5be;letter-spacing:0.357px;">+126.5 (+0.14%)</div><div class="t" style="left:1435.50px;top:77.98px;font-size:24px;line-height:24px;color:#131722;letter-spacing:0.943px;">−900.6 (−0.99%)</div><div class="t" style="left:3088.5px;top:143.1px;font-size:24px;line-height:24px;color:#131722;letter-spacing:1.47px;">110,000.0</div><div class="t" style="left:3088.5px;top:227.7px;font-size:24px;line-height:24px;color:#131722;letter-spacing:1.47px;">108,000.0</div><div class="t" style="left:3088.5px;top:312.2px;font-size:24px;line-height:24px;color:#131722;letter-spacing:1.47px;">106,000.0</div><div class="t" style="left:3088.5px;top:396.8px;font-size:24px;line-height:24px;color:#131722;letter-spacing:1.47px;">104,000.0</div><div class="t" style="left:3088.5px;top:481.4px;font-size:24px;line-height:24px;color:#131722;letter-spacing:1.47px;">102,000.0</div><div class="t" style="left:3088.5px;top:565.9px;font-size:24px;line-height:24px;color:#131722;letter-spacing:1.47px;">100,000.0</div><div class="t" style="left:3088.5px;top:650.5px;font-size:24px;line-height:24px;color:#131722;letter-spacing:1.47px;">98,000.0</div><div class="t" style="left:3088.5px;top:735.1px;font-size:24px;line-height:24px;color:#131722;letter-spacing:1.47px;">96,000.0</div><div class="t" style="left:3088.5px;top:819.7px;font-size:24px;line-height:24px;color:#131722;letter-spacing:1.47px;">94,000.0</div><div class="t" style="left:3088.5px;top:904.2px;font-size:24px;line-height:24px;color:#131722;letter-spacing:1.47px;">92,000.0</div><div class="t" style="left:3088.5px;top:988.8px;font-size:24px;line-height:24px;color:#131722;letter-spacing:1.47px;">90,000.0</div><div class="t" style="left:3088.5px;top:1073.4px;font-size:24px;line-height:24px;color:#131722;letter-spacing:1.47px;">88,000.0</div><div class="t" style="left:3088.5px;top:1157.9px;font-size:24px;line-height:24px;color:#131722;letter-spacing:1.47px;">86,000.0</div><div class="t" style="left:3088.5px;top:1242.5px;font-size:24px;line-height:24px;color:#131722;letter-spacing:1.47px;">84,000.0</div><div class="t" style="left:3088.5px;top:1327.1px;font-size:24px;line-height:24px;color:#131722;letter-spacing:1.47px;">82,000.0</div><div class="t" style="left:3088.5px;top:1411.7px;font-size:24px;line-height:24px;color:#131722;letter-spacing:1.47px;">80,000.0</div><div class="t" style="left:3088.5px;top:1496.2px;font-size:24px;line-height:24px;color:#131722;letter-spacing:1.47px;">78,000.0</div><div class="t" style="left:3088.5px;top:1580.8px;font-size:24px;line-height:24px;color:#131722;letter-spacing:1.47px;">76,000.0</div><div class="t" style="left:-143.3px;width:600px;text-align:center;top:1685.5px;font-size:24px;line-height:24px;color:#131722;letter-spacing:1.4px;">27</div><div class="t" style="left:-4.3px;width:600px;text-align:center;top:1685.5px;font-size:24px;line-height:24px;color:#131722;letter-spacing:1.4px;">29</div><div class="t" style="left:204.0px;width:600px;text-align:center;top:1685.5px;font-size:24px;line-height:24px;color:#131722;letter-spacing:-0.2px;font-weight:bold;">Feb</div><div class="t" style="left:344.7px;width:600px;text-align:center;top:1685.5px;font-size:24px;line-height:24px;color:#131722;letter-spacing:1.4px;">3</div><div class="t" style="left:483.7px;width:600px;text-align:center;top:1685.5px;font-size:24px;line-height:24px;color:#131722;letter-spacing:1.4px;">5</div><div class="t" style="left:623.7px;width:600px;text-align:center;top:1685.5px;font-size:24px;line-height:24px;color:#131722;letter-spacing:1.4px;">7</div><div class="t" style="left:762.7px;width:600px;text-align:center;top:1685.5px;font-size:24px;line-height:24px;color:#131722;letter-spacing:1.4px;">9</div><div class="t" style="left:902.7px;width:600px;text-align:center;top:1685.5px;font-size:24px;line-height:24px;color:#131722;letter-spacing:1.4px;">11</div><div class="t" style="left:1041.7px;width:600px;text-align:center;top:1685.5px;font-size:24px;line-height:24px;color:#131722;letter-spacing:1.4px;">13</div><div class="t" style="left:1181.7px;width:600px;text-align:center;top:1685.5px;font-size:24px;line-height:24px;color:#131722;letter-spacing:1.4px;">15</div><div class="t" style="left:1320.7px;width:600px;text-align:center;top:1685.5px;font-size:24px;line-height:24px;color:#131722;letter-spacing:1.4px;">17</div><div class="t" style="left:1460.7px;width:600px;text-align:center;top:1685.5px;font-size:24px;line-height:24px;color:#131722;letter-spacing:1.4px;">19</div><div class="t" style="left:1599.7px;width:600px;text-align:center;top:1685.5px;font-size:24px;line-height:24px;color:#131722;letter-spacing:1.4px;">21</div><div class="t" style="left:1739.7px;width:600px;text-align:center;top:1685.5px;font-size:24px;line-height:24px;color:#131722;letter-spacing:1.4px;">23</div><div class="t" style="left:1878.7px;width:600px;text-align:center;top:1685.5px;font-size:24px;line-height:24px;color:#131722;letter-spacing:1.4px;">25</div><div class="t" style="left:2018.7px;width:600px;text-align:center;top:1685.5px;font-size:24px;line-height:24px;color:#131722;letter-spacing:1.4px;">27</div><div class="t" style="left:2157.0px;width:600px;text-align:center;top:1685.5px;font-size:24px;line-height:24px;color:#131722;letter-spacing:-0.2px;font-weight:bold;">Mar</div><div class="t" style="left:2297.7px;width:600px;text-align:center;top:1685.5px;font-size:24px;line-height:24px;color:#131722;letter-spacing:1.4px;">3</div><div class="t" style="left:2436.7px;width:600px;text-align:center;top:1685.5px;font-size:24px;line-height:24px;color:#131722;letter-spacing:1.4px;">5</div><div class="t" style="left:2576.7px;width:600px;text-align:center;top:1685.5px;font-size:24px;line-height:24px;color:#131722;letter-spacing:1.4px;">7</div><div class="t" style="left:2715.7px;width:600px;text-align:center;top:1685.5px;font-size:24px;line-height:24px;color:#131722;letter-spacing:1.4px;">9</div>
<div class="usdt"></div>
<div class="t" style="left:3096.00px;top:75.98px;font-size:24px;line-height:24px;color:#131722;letter-spacing:-0.667px;">USDT</div>
<div class="plabel"></div>
<div class="t" style="left:3089.00px;top:1001.28px;font-size:24px;line-height:24px;color:#000000;letter-spacing:1.286px;">89,665.5</div>
<div class="t" style="left:3089.00px;top:1029.68px;font-size:24px;line-height:24px;color:#2a2e39;letter-spacing:1.314px;">01:01:34</div>
<svg style="position:absolute;left:2818px;top:1616px" width="56" height="54" viewBox="2818 1616 56 54">
<path d="M2864.47 1636.65 A19.5 19.5 0 1 1 2852.12 1624.39" fill="none" stroke="#9c27b0" stroke-width="2.9"/>
<path d="M2850.35 1632.26L2851.88 1633.90L2846.33 1641.95L2854.37 1641.95L2840.84 1653.90L2839.20 1652.55L2845.23 1643.78L2837.48 1643.78Z" fill="#9c27b0"/>
<circle cx="2859.85" cy="1628.97" r="4.95" fill="#f23645"/>
</svg>
<svg style="position:absolute;left:19px;top:1744px" width="45" height="30" viewBox="0 0 45 30">
<g transform="translate(0.9 -0.2) scale(1.105 1.089)" fill="#131722"><path d="M14 22H7V11H0V4h14v18zM28 22h-8l7.5-18h8L28 22z"/><circle cx="20" cy="8" r="4"/></g>
</svg>
<div class="t" style="left:67.00px;top:1745.99px;font-size:26px;line-height:26px;color:#131722;letter-spacing:0.420px;">TradingView</div>
</body></html>
